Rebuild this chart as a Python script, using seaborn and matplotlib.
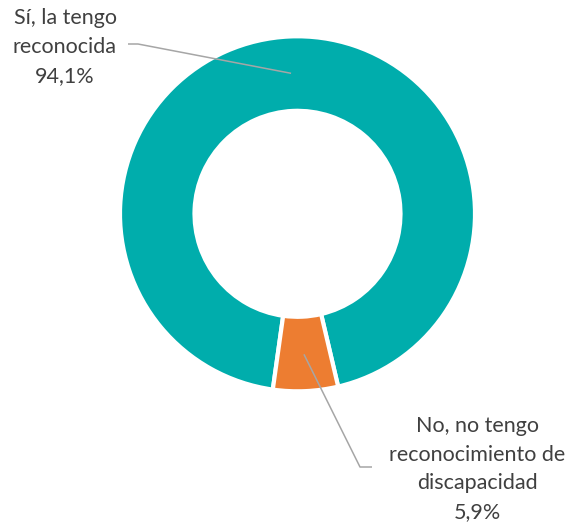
import numpy as np
import seaborn as sns
import matplotlib.pyplot as plt

categories = ['Sí, la tengo\nreconocida', 'No, no tengo\nreconocimiento de\ndiscapacidad']
values     = [94.1, 5.9]
colors     = ['#00ADAC', '#ED7D31']


def fmt_pct(v):
    return '{:.1f}%'.format(v).replace('.', ',')


sns.set_theme(style='white')
plt.rcParams['font.family'] = ['Lato', 'DejaVu Sans']

W, H = 571, 526
fig = plt.figure(figsize=[W / 100, H / 100], dpi=100)
ax = fig.add_axes([0, 0, 1, 1])
ax.set_xlim(0, W)
ax.set_ylim(0, H)
ax.set_aspect('equal')
ax.axis('off')

cx, cy = 297.5, H - 213.8
R = 177.5
wedges, _ = ax.pie(values, colors=colors, startangle=262, counterclock=False,
                   center=(cx, cy), radius=R,
                   wedgeprops=dict(width=74.5, edgecolor='white', linewidth=3))
ax.set_xlim(0, W)
ax.set_ylim(0, H)

# label placement: (elbow x, end x, line y, text x, text y)
layout = [
    (138, 128, H - 44, 65, H - 47),
    (360, 372, H - 467, 477, H - 469),
]

for w, cat, val, (ex, tx0, ly, txt_x, txt_y) in zip(wedges, categories, values, layout):
    mid = np.deg2rad((w.theta1 + w.theta2) / 2)
    px = cx + 0.8 * 175.8 * np.cos(mid)
    py = cy + 0.8 * 175.8 * np.sin(mid)
    ax.plot([px, ex, tx0], [py, ly, ly], color='#A6A6A6', lw=1.1, solid_capstyle='butt')
    ax.text(txt_x, txt_y, cat + '\n' + fmt_pct(val), ha='center', va='center',
            fontsize=15.5, color='#404040', linespacing=1.55)

fig.savefig('out.png', dpi=100)
